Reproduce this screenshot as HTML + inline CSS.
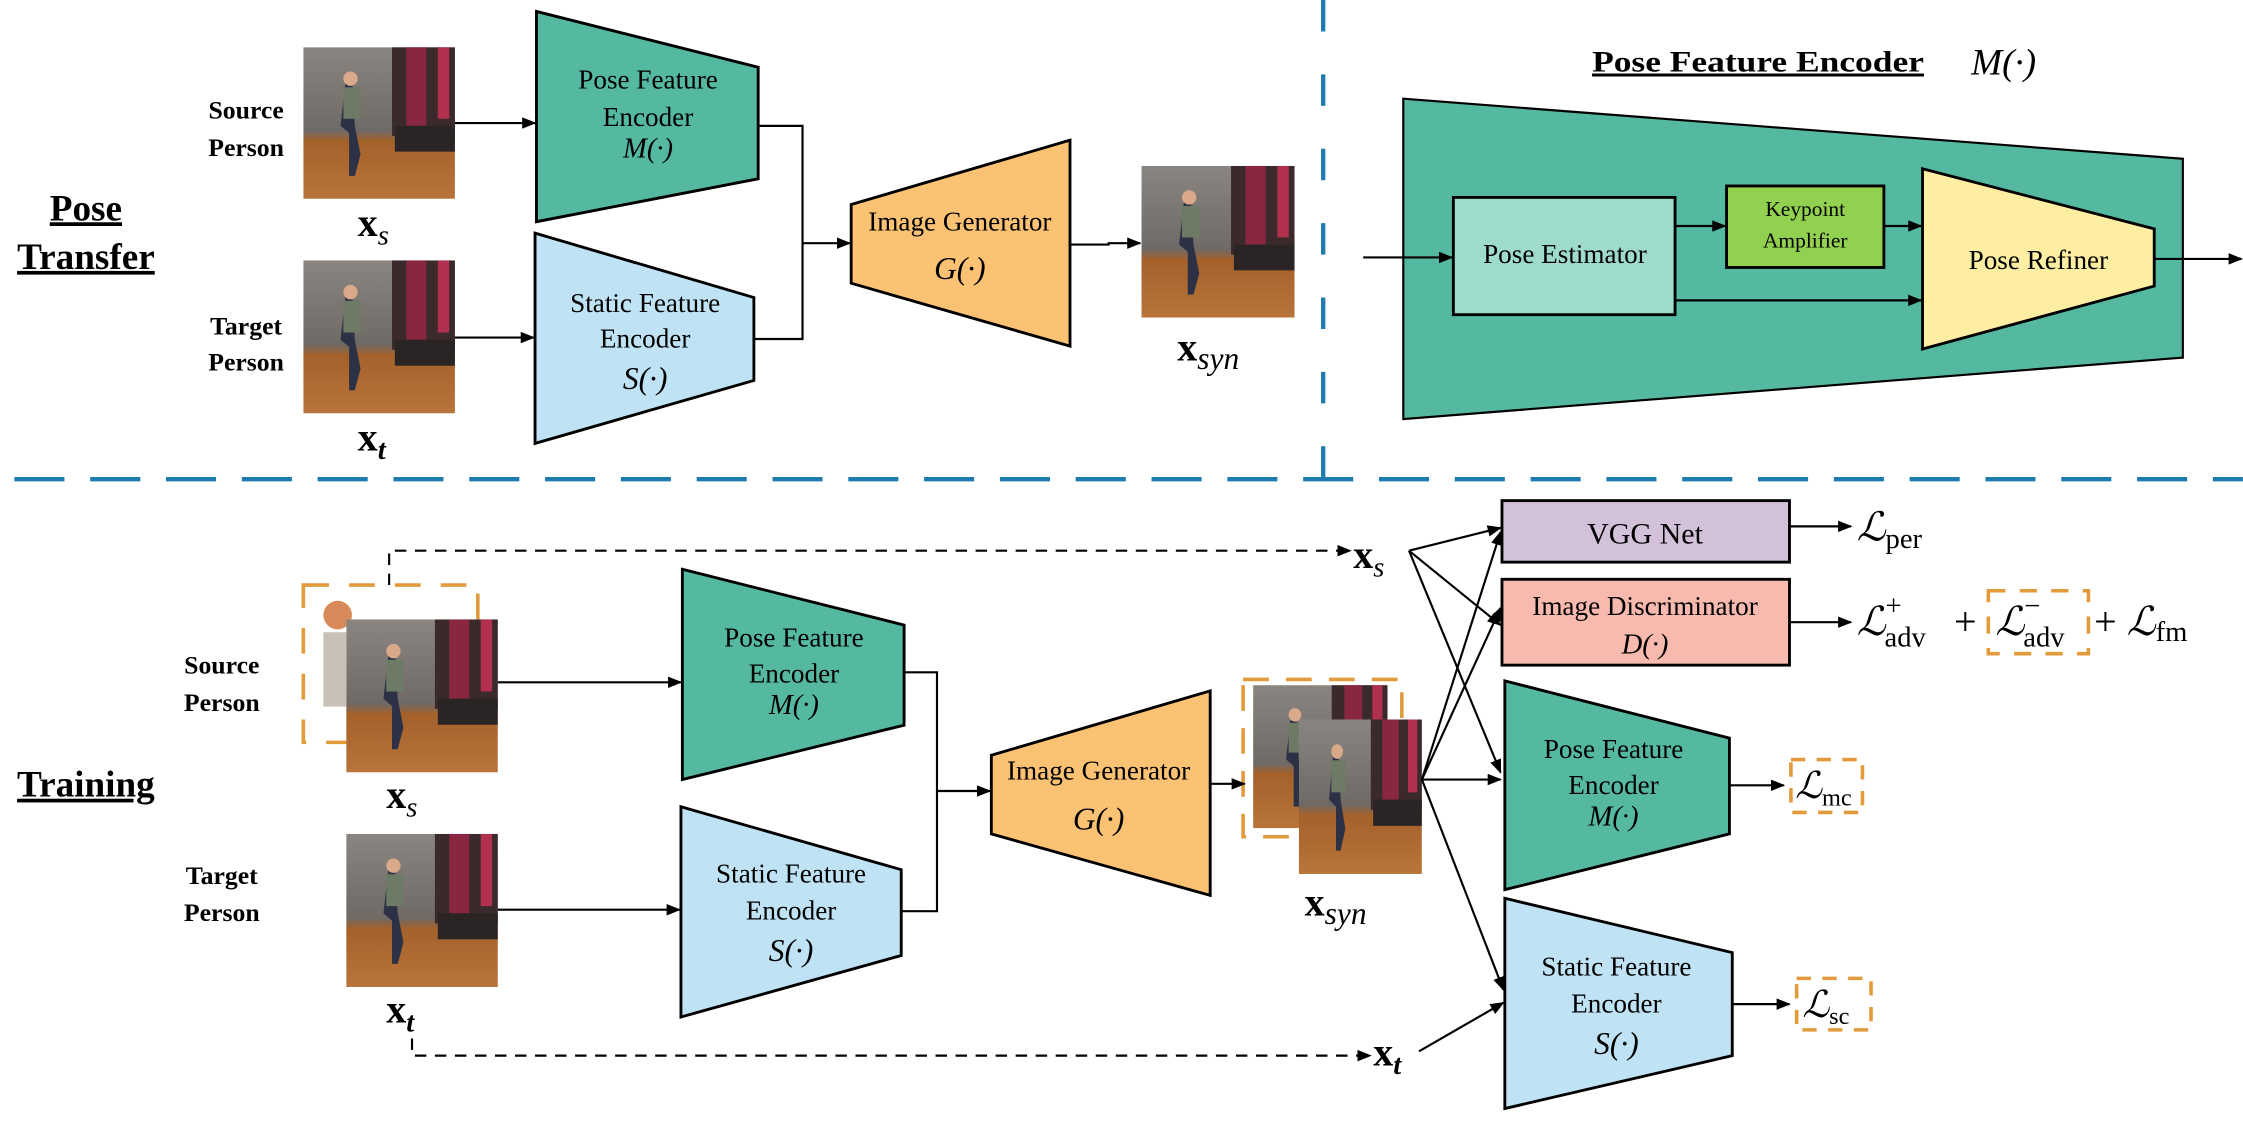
<!DOCTYPE html>
<html><head><meta charset="utf-8"><style>
html,body{margin:0;padding:0;background:#fff;}
svg{display:block;}
text{font-family:"Liberation Serif","DejaVu Serif",serif;fill:#000;}
.b{font-weight:bold;}
.i{font-style:italic;}
</style></head><body>
<svg width="2243" height="1130" viewBox="0 0 1568 790" xmlns="http://www.w3.org/2000/svg">
<defs>
<marker id="ar" markerWidth="10" markerHeight="8" refX="9" refY="4" orient="auto" markerUnits="userSpaceOnUse"><path d="M0,0 L10,4 L0,8 z" fill="#000"/></marker>
<linearGradient id="fl" x1="0" y1="0" x2="0" y2="1"><stop offset="0" stop-color="#8a8580"/><stop offset="0.55" stop-color="#6f6a66"/><stop offset="0.62" stop-color="#a5612a"/><stop offset="1" stop-color="#b8743a"/></linearGradient>
<symbol id="ph" viewBox="0 0 106 106" preserveAspectRatio="none">
<rect width="106" height="106" fill="url(#fl)"/>
<rect x="62" y="0" width="44" height="62" fill="#3a2a2c"/>
<rect x="72" y="0" width="14" height="55" fill="#8a2740"/>
<rect x="94" y="0" width="8" height="50" fill="#b0304e"/>
<rect x="64" y="55" width="42" height="18" fill="#2a2424"/>
<path d="M30,20 L34,20 L36,55 L40,75 L36,90 L32,90 L32,60 L26,55 Z" fill="#2d3145"/>
<rect x="28" y="28" width="12" height="22" fill="#6d7b66"/>
<circle cx="33" cy="22" r="5" fill="#d9a98a"/>
</symbol>
</defs>

<line x1="925" y1="0" x2="925" y2="335" stroke="#1e7bb0" stroke-width="3" stroke-dasharray="22,30"/>
<line x1="10" y1="335" x2="1568" y2="335" stroke="#1e7bb0" stroke-width="3" stroke-dasharray="35,18"/>

<text x="60" y="154" class="b" font-size="26" text-anchor="middle" text-decoration="underline">Pose</text>
<text x="60" y="188" class="b" font-size="26" text-anchor="middle" text-decoration="underline">Transfer</text>
<text x="172" y="83" class="b" font-size="18" text-anchor="middle">Source</text>
<text x="172" y="109" class="b" font-size="18" text-anchor="middle">Person</text>
<text x="172" y="234" class="b" font-size="18" text-anchor="middle">Target</text>
<text x="172" y="259" class="b" font-size="18" text-anchor="middle">Person</text>
<use href="#ph" x="212" y="33" width="106" height="106"/>
<use href="#ph" x="212" y="182" width="106" height="107"/>
<text x="250" y="165" class="b" font-size="28">x<tspan class="i" font-weight="normal" font-size="20" dy="6">s</tspan></text>
<text x="250" y="315" class="b" font-size="28">x<tspan class="i" font-size="20" dy="6">t</tspan></text>

<polygon points="375,8 530,47 530,125 375,155" fill="#55b9a1" stroke="#000" stroke-width="2"/>
<text x="453" y="62" font-size="19" text-anchor="middle">Pose Feature</text>
<text x="453" y="88" font-size="19" text-anchor="middle">Encoder</text>
<text x="453" y="110" font-size="20" text-anchor="middle" class="i">M(·)</text>
<polygon points="374,163 527,208 527,266 374,310" fill="#bfe3f4" stroke="#000" stroke-width="2"/>
<text x="451" y="218" font-size="19" text-anchor="middle">Static Feature</text>
<text x="451" y="243" font-size="19" text-anchor="middle">Encoder</text>
<text x="451" y="272" font-size="22" text-anchor="middle" class="i">S(·)</text>
<polygon points="595,143 748,98 748,242 595,198" fill="#fcc273" stroke="#000" stroke-width="2"/>
<text x="671" y="161" font-size="19" text-anchor="middle">Image Generator</text>
<text x="671" y="195" font-size="22" text-anchor="middle" class="i">G(·)</text>
<use href="#ph" x="798" y="116" width="107" height="106"/>
<text x="823" y="252" class="b" font-size="28">x<tspan class="i" font-weight="normal" font-size="22" dy="6">syn</tspan></text>

<g stroke="#000" stroke-width="1.5" fill="none">
<line x1="318" y1="86" x2="374" y2="86" marker-end="url(#ar)"/>
<line x1="318" y1="236" x2="373" y2="236" marker-end="url(#ar)"/>
<polyline points="530,88 561,88 561,237 527,237"/>
<line x1="561" y1="170" x2="594" y2="170" marker-end="url(#ar)"/>
<polyline points="748,171 775,171 775,170 797,170" marker-end="url(#ar)"/>
</g>

<text x="1113" y="50" class="b" font-size="21" text-decoration="underline" textLength="232" lengthAdjust="spacingAndGlyphs">Pose Feature Encoder</text>
<text x="1378" y="52" class="i" font-size="26">M(·)</text>
<polygon points="981,69 1526,111 1526,250 981,293" fill="#55b9a1" stroke="#000" stroke-width="1.5"/>
<rect x="1016" y="138" width="155" height="82" fill="#9fdbcc" stroke="#000" stroke-width="2"/>
<text x="1094" y="184" font-size="19" text-anchor="middle" font-family="Liberation Sans">Pose Estimator</text>
<rect x="1207" y="130" width="110" height="57" fill="#92d050" stroke="#000" stroke-width="2"/>
<text x="1262" y="151" font-size="15" text-anchor="middle">Keypoint</text>
<text x="1262" y="173" font-size="15" text-anchor="middle">Amplifier</text>
<polygon points="1344,118 1506,160 1506,200 1344,244" fill="#feeea2" stroke="#000" stroke-width="2"/>
<text x="1425" y="188" font-size="19" text-anchor="middle" font-family="Liberation Sans">Pose Refiner</text>
<g stroke="#000" stroke-width="1.5" fill="none">
<line x1="953" y1="180" x2="1015" y2="180" marker-end="url(#ar)"/>
<line x1="1171" y1="158" x2="1206" y2="158" marker-end="url(#ar)"/>
<line x1="1317" y1="158" x2="1343" y2="158" marker-end="url(#ar)"/>
<line x1="1171" y1="210" x2="1343" y2="210" marker-end="url(#ar)"/>
<line x1="1506" y1="181" x2="1567" y2="181" marker-end="url(#ar)"/>
</g>

<text x="60" y="557" class="b" font-size="26" text-anchor="middle" text-decoration="underline">Training</text>
<text x="155" y="471" class="b" font-size="18" text-anchor="middle">Source</text>
<text x="155" y="497" class="b" font-size="18" text-anchor="middle">Person</text>
<text x="155" y="618" class="b" font-size="18" text-anchor="middle">Target</text>
<text x="155" y="644" class="b" font-size="18" text-anchor="middle">Person</text>
<rect x="212" y="409" width="122" height="110" fill="none" stroke="#e29a3a" stroke-width="2.5" stroke-dasharray="18,14"/>
<circle cx="236" cy="430" r="10" fill="#d98a5a"/>
<rect x="226" y="442" width="16" height="52" fill="#c9c1b8"/>
<use href="#ph" x="242" y="433" width="106" height="107"/>
<use href="#ph" x="242" y="583" width="106" height="107"/>
<text x="270" y="565" class="b" font-size="28">x<tspan class="i" font-weight="normal" font-size="20" dy="6">s</tspan></text>
<text x="270" y="715" class="b" font-size="28">x<tspan class="i" font-size="20" dy="6">t</tspan></text>

<polygon points="477,398 632,437 632,507 477,545" fill="#55b9a1" stroke="#000" stroke-width="2"/>
<text x="555" y="452" font-size="19" text-anchor="middle">Pose Feature</text>
<text x="555" y="477" font-size="19" text-anchor="middle">Encoder</text>
<text x="555" y="499" font-size="20" text-anchor="middle" class="i">M(·)</text>
<polygon points="476,564 630,608 630,668 476,711" fill="#bfe3f4" stroke="#000" stroke-width="2"/>
<text x="553" y="617" font-size="19" text-anchor="middle">Static Feature</text>
<text x="553" y="643" font-size="19" text-anchor="middle">Encoder</text>
<text x="553" y="672" font-size="22" text-anchor="middle" class="i">S(·)</text>
<polygon points="693,528 846,483 846,626 693,583" fill="#fcc273" stroke="#000" stroke-width="2"/>
<text x="768" y="545" font-size="19" text-anchor="middle">Image Generator</text>
<text x="768" y="580" font-size="22" text-anchor="middle" class="i">G(·)</text>

<rect x="869" y="475" width="111" height="110" fill="none" stroke="#e29a3a" stroke-width="2.5" stroke-dasharray="18,12"/>
<use href="#ph" x="876" y="479" width="94" height="100"/>
<use href="#ph" x="908" y="503" width="86" height="108"/>
<text x="912" y="640" class="b" font-size="28">x<tspan class="i" font-weight="normal" font-size="22" dy="6">syn</tspan></text>

<g stroke="#000" stroke-width="1.5" fill="none">
<line x1="348" y1="477" x2="476" y2="477" marker-end="url(#ar)"/>
<line x1="348" y1="636" x2="475" y2="636" marker-end="url(#ar)"/>
<polyline points="632,470 655,470 655,637 630,637"/>
<line x1="655" y1="553" x2="692" y2="553" marker-end="url(#ar)"/>
<line x1="846" y1="548" x2="870" y2="548" marker-end="url(#ar)"/>
<polyline points="272,409 272,385 944,385" stroke-dasharray="8,6" marker-end="url(#ar)"/>
<polyline points="288,726 288,738 958,738" stroke-dasharray="8,6" marker-end="url(#ar)"/>
<line x1="994" y1="545" x2="1049" y2="372" marker-end="url(#ar)"/>
<line x1="994" y1="545" x2="1049" y2="425" marker-end="url(#ar)"/>
<line x1="994" y1="545" x2="1049" y2="545" marker-end="url(#ar)"/>
<line x1="994" y1="545" x2="1051" y2="692" marker-end="url(#ar)"/>
<line x1="985" y1="385" x2="1049" y2="369" marker-end="url(#ar)"/>
<line x1="985" y1="385" x2="1049" y2="437" marker-end="url(#ar)"/>
<line x1="985" y1="385" x2="1049" y2="540" marker-end="url(#ar)"/>
<line x1="992" y1="735" x2="1051" y2="701" marker-end="url(#ar)"/>
<line x1="1251" y1="368" x2="1294" y2="368" marker-end="url(#ar)"/>
<line x1="1251" y1="435" x2="1294" y2="435" marker-end="url(#ar)"/>
<line x1="1209" y1="549" x2="1247" y2="549" marker-end="url(#ar)"/>
<line x1="1211" y1="702" x2="1251" y2="702" marker-end="url(#ar)"/>
</g>
<text x="946" y="397" class="b" font-size="28">x<tspan class="i" font-weight="normal" font-size="20" dy="6">s</tspan></text>
<text x="960" y="745" class="b" font-size="28">x<tspan class="i" font-size="20" dy="6">t</tspan></text>

<rect x="1050" y="350" width="201" height="43" fill="#d3c1d9" stroke="#000" stroke-width="2"/>
<text x="1150" y="380" font-size="21" text-anchor="middle">VGG Net</text>
<rect x="1050" y="405" width="201" height="60" fill="#f8baaf" stroke="#000" stroke-width="2"/>
<text x="1150" y="430" font-size="19" text-anchor="middle">Image Discriminator</text>
<text x="1150" y="457" font-size="20" text-anchor="middle" class="i">D(·)</text>
<polygon points="1052,476 1209,516 1209,583 1052,622" fill="#55b9a1" stroke="#000" stroke-width="2"/>
<text x="1128" y="530" font-size="19" text-anchor="middle">Pose Feature</text>
<text x="1128" y="555" font-size="19" text-anchor="middle">Encoder</text>
<text x="1128" y="577" font-size="20" text-anchor="middle" class="i">M(·)</text>
<polygon points="1052,628 1211,666 1211,738 1052,775" fill="#bfe3f4" stroke="#000" stroke-width="2"/>
<text x="1130" y="682" font-size="19" text-anchor="middle">Static Feature</text>
<text x="1130" y="708" font-size="19" text-anchor="middle">Encoder</text>
<text x="1130" y="737" font-size="22" text-anchor="middle" class="i">S(·)</text>

<text x="1298" y="378" font-size="28" class="i">ℒ<tspan font-style="normal" font-size="20" dy="5">per</tspan></text>
<text x="1298" y="444" font-size="28" class="i">ℒ<tspan font-style="normal" font-size="20" dy="-14">+</tspan><tspan font-style="normal" font-size="20" dx="-12" dy="22">adv</tspan></text>
<text x="1366" y="444" font-size="28">+</text>
<rect x="1390" y="413" width="70" height="44" fill="none" stroke="#e29a3a" stroke-width="2.5" stroke-dasharray="12,10"/>
<text x="1395" y="444" font-size="28" class="i">ℒ<tspan font-style="normal" font-size="20" dy="-14">−</tspan><tspan font-style="normal" font-size="20" dx="-12" dy="22">adv</tspan></text>
<text x="1464" y="444" font-size="28">+ <tspan class="i">ℒ</tspan><tspan font-size="20" dy="4">fm</tspan></text>
<rect x="1252" y="531" width="50" height="37" fill="none" stroke="#e29a3a" stroke-width="2.5" stroke-dasharray="10,8"/>
<text x="1255" y="558" font-size="26" class="i">ℒ<tspan font-style="normal" font-size="17" dy="5">mc</tspan></text>
<rect x="1256" y="684" width="52" height="36" fill="none" stroke="#e29a3a" stroke-width="2.5" stroke-dasharray="10,8"/>
<text x="1260" y="711" font-size="26" class="i">ℒ<tspan font-style="normal" font-size="17" dy="5">sc</tspan></text>
</svg>
</body></html>
